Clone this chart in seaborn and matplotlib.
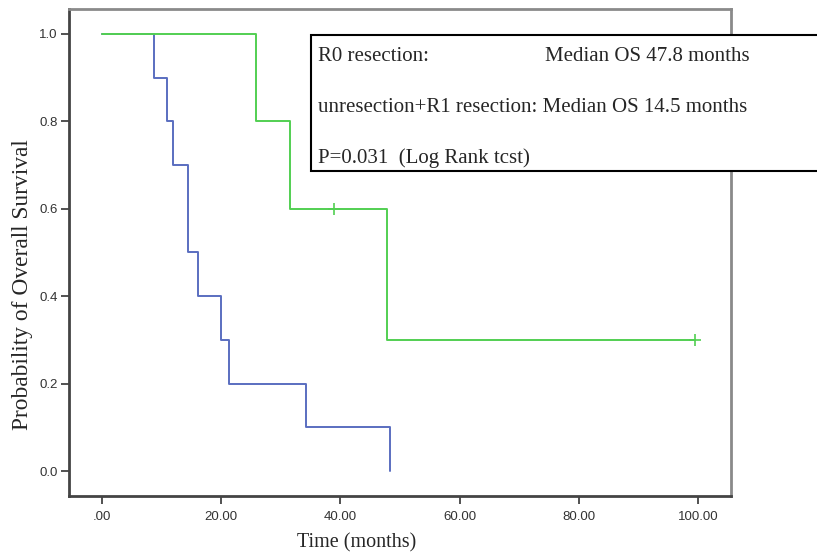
import matplotlib
matplotlib.use("Agg")
import matplotlib.pyplot as plt
from matplotlib.patches import Rectangle
import seaborn as sns
import pandas as pd

# --- Data ---
r0_time = [0.0, 25.8, 31.6, 47.8, 99.5]
r0_surv = [1.0, 0.8, 0.6, 0.3, 0.3]
r0_censor_time = [39.0, 99.5]
r0_censor_surv = [0.6, 0.3]

r1_time = [0.0, 8.7, 11.0, 11.9, 14.4, 14.5, 16.2, 20.0, 21.3, 34.3, 48.3]
r1_surv = [1.0, 0.9, 0.8, 0.7, 0.6, 0.5, 0.4, 0.3, 0.2, 0.1, 0.0]

x_ticks = [0, 20, 40, 60, 80, 100]
x_tick_labels = [".00", "20.00", "40.00", "60.00", "80.00", "100.00"]
y_ticks = [0.0, 0.2, 0.4, 0.6, 0.8, 1.0]
y_tick_labels = ["0.0", "0.2", "0.4", "0.6", "0.8", "1.0"]

box_lines = ["R0 resection:", "unresection+R1 resection: Median OS 14.5 months",
             "P=0.031  (Log Rank tcst)"]
r0_median_text = "Median OS 47.8 months"

green = "#52cf52"
blue = "#5a6ec0"

df_r0 = pd.DataFrame({"time": r0_time, "surv": r0_surv})
df_r1 = pd.DataFrame({"time": r1_time, "surv": r1_surv})

sns.set_style("white")
W, H = 817, 557
fig = plt.figure(figsize=(W / 100, H / 100), dpi=100)
ax = fig.add_axes((69 / W, 1 - 496 / H, (731 - 69) / W, (496 - 9) / H))

sns.lineplot(data=df_r1, x="time", y="surv", ax=ax, color=blue, lw=1.4,
             drawstyle="steps-post", estimator=None, sort=False)
sns.lineplot(data=df_r0, x="time", y="surv", ax=ax, color=green, lw=1.4,
             drawstyle="steps-post", estimator=None, sort=False)
ax.plot(r0_censor_time, r0_censor_surv, ls="none", marker="+", ms=8,
        mew=1.2, color=green)

ax.set_xlim(-5.5, 105.5)
ax.set_ylim(-0.057, 1.057)
ax.set_xticks(x_ticks)
ax.set_xticklabels(x_tick_labels)
ax.set_yticks(y_ticks)
ax.set_yticklabels(y_tick_labels)
ax.tick_params(axis="both", bottom=True, left=True, direction="out", length=6,
               width=1.2, pad=2, colors="#333333", labelsize=9.5,
               labelcolor="#333333")
ax.tick_params(axis="x", pad=5)
for lab in ax.get_xticklabels() + ax.get_yticklabels():
    lab.set_family("Liberation Sans")
ax.set_xlabel("")
ax.set_ylabel("")

for side in ["left", "bottom"]:
    ax.spines[side].set_color("#444444")
    ax.spines[side].set_linewidth(2.0)
for side in ["top", "right"]:
    ax.spines[side].set_color("#8a8a8a")
    ax.spines[side].set_linewidth(2.0)

serif = ["Liberation Serif", "DejaVu Serif"]
fig.text(357 / W, 1 - 543 / H, "Time (months)", family=serif, fontsize=14.5,
         ha="center", va="center")
fig.text(23 / W, 1 - 285 / H, "Probability of Overall Survival", family=serif,
         fontsize=16.8, rotation=90, ha="center", va="center")

# annotation box running off the right edge
box = Rectangle((311 / W, 1 - 171 / H), 0.7, (171 - 35) / H,
                transform=fig.transFigure, facecolor="white", edgecolor="black",
                lw=1.5, clip_on=False, zorder=10)
ax.add_artist(box)
baselines = [61, 112, 163]
for txt, yb in zip(box_lines, baselines):
    ax.text(318 / W, 1 - yb / H, txt, transform=fig.transFigure, family=serif,
            fontsize=15, va="baseline", ha="left", zorder=11)
ax.text(545 / W, 1 - baselines[0] / H, r0_median_text, transform=fig.transFigure,
        family=serif, fontsize=15, va="baseline", ha="left", zorder=11)

fig.savefig("out.png", dpi=100)
